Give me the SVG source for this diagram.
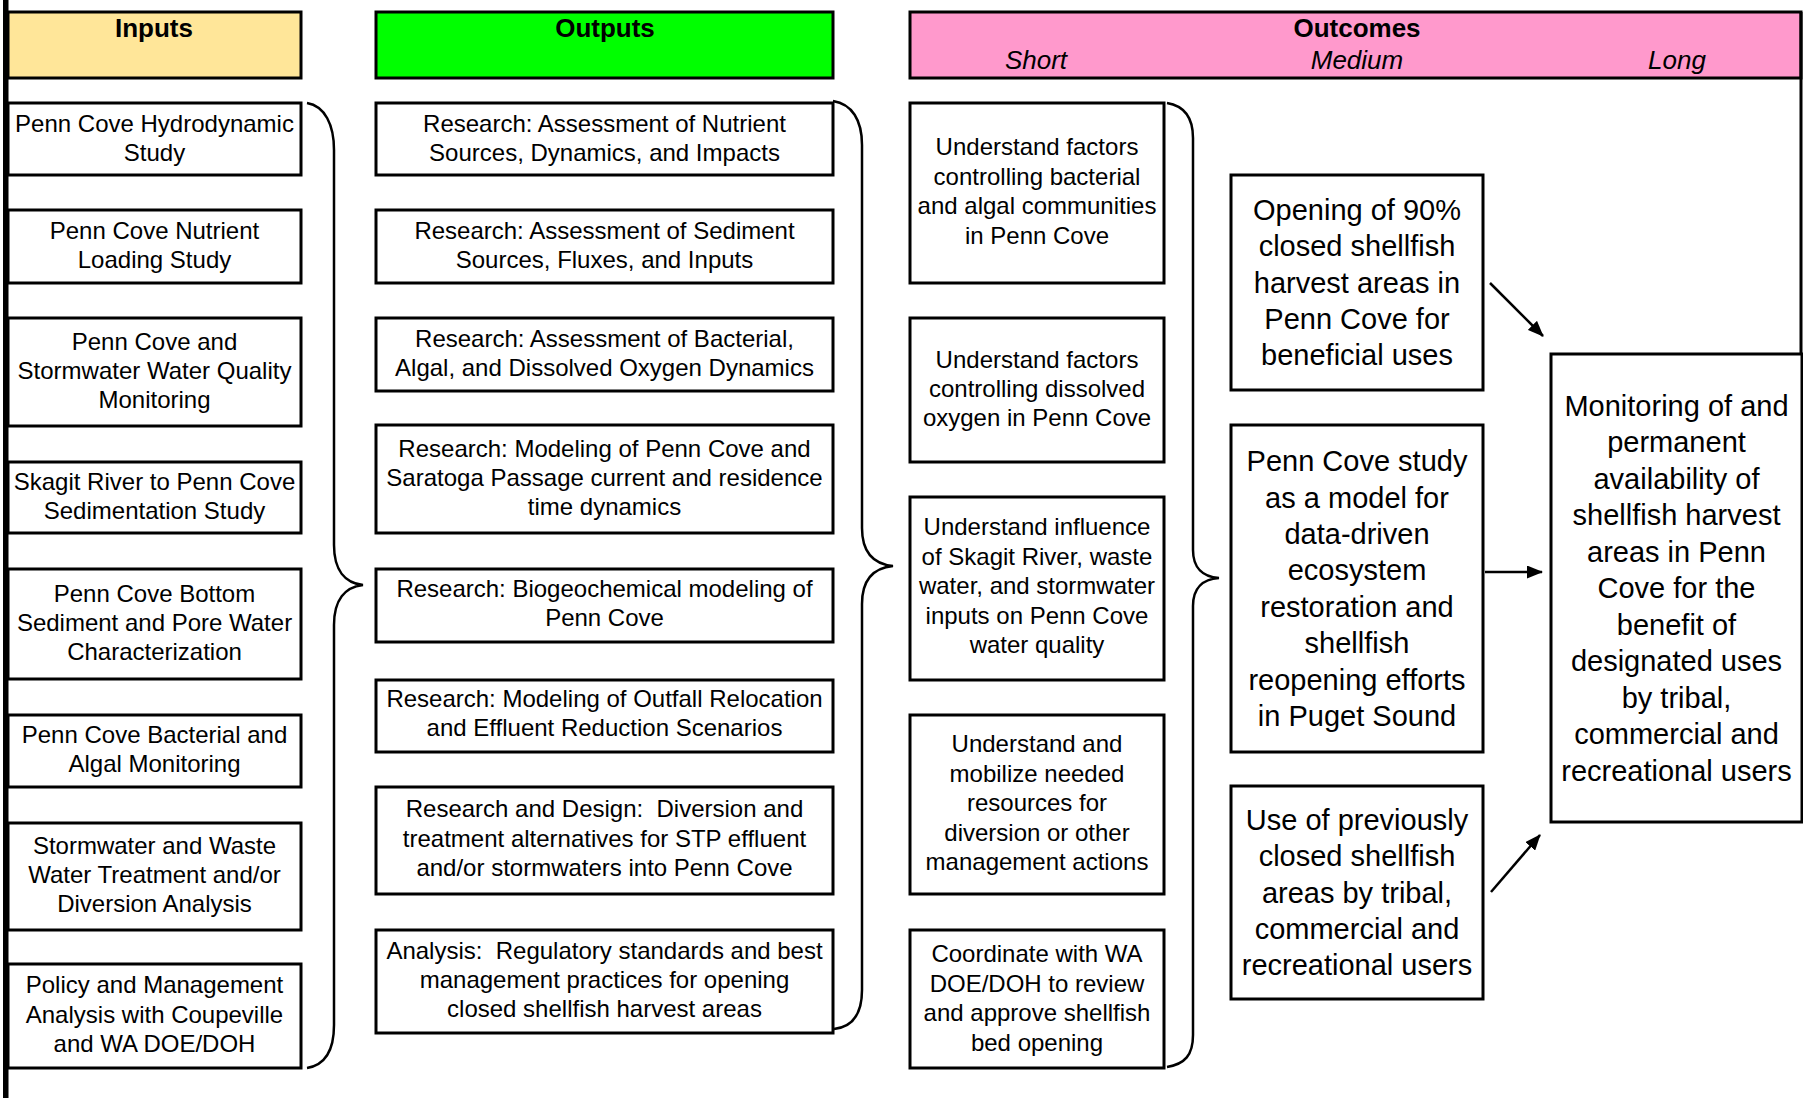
<svg xmlns="http://www.w3.org/2000/svg" width="1803" height="1098" viewBox="0 0 1803 1098">
<style>
.box{fill:#ffffff;stroke:#000;stroke-width:3}
.hdr{stroke:#000;stroke-width:3}
.t{font-family:"Liberation Sans",Arial,sans-serif;font-size:24px;fill:#000;text-anchor:middle}
.tm{font-family:"Liberation Sans",Arial,sans-serif;font-size:29px;fill:#000;text-anchor:middle}
.th{font-family:"Liberation Sans",Arial,sans-serif;font-size:26px;font-weight:bold;fill:#000;text-anchor:middle}
.ti{font-family:"Liberation Sans",Arial,sans-serif;font-size:26px;font-style:italic;fill:#000;text-anchor:middle}
.br{fill:none;stroke:#000;stroke-width:2.5}
.ar{fill:none;stroke:#000;stroke-width:2.5;marker-end:url(#ah)}
</style>
<defs>
<marker id="ah" markerUnits="userSpaceOnUse" viewBox="0 0 16 13" refX="15" refY="6.5" markerWidth="16" markerHeight="13" orient="auto">
<path d="M0,0 L16,6.5 L0,13 z" fill="#000"/>
</marker>
</defs>
<rect width="1803" height="1098" fill="#ffffff"/>

<g id="header-inputs">
<rect class="hdr" x="8" y="12" width="293" height="66" fill="#FFE699"/>
<text class="th" x="154" y="37">Inputs</text>
</g>
<g id="header-outputs">
<rect class="hdr" x="376" y="12" width="457" height="66" fill="#00FF00"/>
<text class="th" x="605" y="37">Outputs</text>
</g>
<g id="header-outcomes">
<rect class="hdr" x="910" y="12" width="891" height="66" fill="#FF99CC"/>
<text class="th" x="1357" y="37">Outcomes</text>
<text class="ti" x="1036" y="69">Short</text>
<text class="ti" x="1357" y="69">Medium</text>
<text class="ti" x="1677" y="69">Long</text>
</g>

<g id="in1"><rect class="box" x="8" y="103" width="293" height="72"/>
<text class="t"><tspan x="154.5" y="131.5">Penn Cove Hydrodynamic</tspan><tspan x="154.5" y="160.5">Study</tspan></text></g>
<g id="in2"><rect class="box" x="8" y="210" width="293" height="73"/>
<text class="t"><tspan x="154.5" y="239">Penn Cove Nutrient</tspan><tspan x="154.5" y="268">Loading Study</tspan></text></g>
<g id="in3"><rect class="box" x="8" y="318" width="293" height="108"/>
<text class="t"><tspan x="154.5" y="350">Penn Cove and</tspan><tspan x="154.5" y="379">Stormwater Water Quality</tspan><tspan x="154.5" y="408">Monitoring</tspan></text></g>
<g id="in4"><rect class="box" x="8" y="462" width="293" height="71"/>
<text class="t"><tspan x="154.5" y="490">Skagit River to Penn Cove</tspan><tspan x="154.5" y="519">Sedimentation Study</tspan></text></g>
<g id="in5"><rect class="box" x="8" y="569" width="293" height="110"/>
<text class="t"><tspan x="154.5" y="602">Penn Cove Bottom</tspan><tspan x="154.5" y="631">Sediment and Pore Water</tspan><tspan x="154.5" y="660">Characterization</tspan></text></g>
<g id="in6"><rect class="box" x="8" y="715" width="293" height="72"/>
<text class="t"><tspan x="154.5" y="742.5">Penn Cove Bacterial and</tspan><tspan x="154.5" y="771.5">Algal Monitoring</tspan></text></g>
<g id="in7"><rect class="box" x="8" y="823" width="293" height="107"/>
<text class="t"><tspan x="154.5" y="854">Stormwater and Waste</tspan><tspan x="154.5" y="883">Water Treatment and/or</tspan><tspan x="154.5" y="912">Diversion Analysis</tspan></text></g>
<g id="in8"><rect class="box" x="8" y="964" width="293" height="104"/>
<text class="t"><tspan x="154.5" y="993">Policy and Management</tspan><tspan x="154.5" y="1022.5">Analysis with Coupeville</tspan><tspan x="154.5" y="1052">and WA DOE/DOH</tspan></text></g>

<g id="out1"><rect class="box" x="376" y="103" width="457" height="72"/>
<text class="t"><tspan x="604.5" y="131.5">Research: Assessment of Nutrient</tspan><tspan x="604.5" y="160.5">Sources, Dynamics, and Impacts</tspan></text></g>
<g id="out2"><rect class="box" x="376" y="210" width="457" height="73"/>
<text class="t"><tspan x="604.5" y="239">Research: Assessment of Sediment</tspan><tspan x="604.5" y="268">Sources, Fluxes, and Inputs</tspan></text></g>
<g id="out3"><rect class="box" x="376" y="318" width="457" height="73"/>
<text class="t"><tspan x="604.5" y="347">Research: Assessment of Bacterial,</tspan><tspan x="604.5" y="376">Algal, and Dissolved Oxygen Dynamics</tspan></text></g>
<g id="out4"><rect class="box" x="376" y="425" width="457" height="108"/>
<text class="t"><tspan x="604.5" y="457">Research: Modeling of Penn Cove and</tspan><tspan x="604.5" y="486">Saratoga Passage current and residence</tspan><tspan x="604.5" y="515">time dynamics</tspan></text></g>
<g id="out5"><rect class="box" x="376" y="569" width="457" height="73"/>
<text class="t"><tspan x="604.5" y="597">Research: Biogeochemical modeling of</tspan><tspan x="604.5" y="626">Penn Cove</tspan></text></g>
<g id="out6"><rect class="box" x="376" y="680" width="457" height="72"/>
<text class="t"><tspan x="604.5" y="707">Research: Modeling of Outfall Relocation</tspan><tspan x="604.5" y="736">and Effluent Reduction Scenarios</tspan></text></g>
<g id="out7"><rect class="box" x="376" y="787" width="457" height="107"/>
<text class="t"><tspan x="604.5" y="817">Research and Design:&#160; Diversion and</tspan><tspan x="604.5" y="846.5">treatment alternatives for STP effluent</tspan><tspan x="604.5" y="876">and/or stormwaters into Penn Cove</tspan></text></g>
<g id="out8"><rect class="box" x="376" y="930" width="457" height="103"/>
<text class="t"><tspan x="604.5" y="958.5">Analysis:&#160; Regulatory standards and best</tspan><tspan x="604.5" y="988">management practices for opening</tspan><tspan x="604.5" y="1017">closed shellfish harvest areas</tspan></text></g>

<g id="short1"><rect class="box" x="910" y="103" width="254" height="180"/>
<text class="t"><tspan x="1037" y="155">Understand factors</tspan><tspan x="1037" y="184.5">controlling bacterial</tspan><tspan x="1037" y="214">and algal communities</tspan><tspan x="1037" y="243.5">in Penn Cove</tspan></text></g>
<g id="short2"><rect class="box" x="910" y="318" width="254" height="144"/>
<text class="t"><tspan x="1037" y="368">Understand factors</tspan><tspan x="1037" y="397">controlling dissolved</tspan><tspan x="1037" y="426">oxygen in Penn Cove</tspan></text></g>
<g id="short3"><rect class="box" x="910" y="497" width="254" height="183"/>
<text class="t"><tspan x="1037" y="535">Understand influence</tspan><tspan x="1037" y="564.6">of Skagit River, waste</tspan><tspan x="1037" y="594.2">water, and stormwater</tspan><tspan x="1037" y="623.8">inputs on Penn Cove</tspan><tspan x="1037" y="653.4">water quality</tspan></text></g>
<g id="short4"><rect class="box" x="910" y="715" width="254" height="179"/>
<text class="t"><tspan x="1037" y="752">Understand and</tspan><tspan x="1037" y="781.5">mobilize needed</tspan><tspan x="1037" y="811">resources for</tspan><tspan x="1037" y="840.5">diversion or other</tspan><tspan x="1037" y="870">management actions</tspan></text></g>
<g id="short5"><rect class="box" x="910" y="930" width="254" height="138"/>
<text class="t"><tspan x="1037" y="962">Coordinate with WA</tspan><tspan x="1037" y="991.5">DOE/DOH to review</tspan><tspan x="1037" y="1021">and approve shellfish</tspan><tspan x="1037" y="1050.5">bed opening</tspan></text></g>

<g id="med1"><rect class="box" x="1231" y="175" width="252" height="215"/>
<text class="tm"><tspan x="1357" y="219.7">Opening of 90%</tspan><tspan x="1357" y="256.1">closed shellfish</tspan><tspan x="1357" y="292.5">harvest areas in</tspan><tspan x="1357" y="328.9">Penn Cove for</tspan><tspan x="1357" y="365.3">beneficial uses</tspan></text></g>
<g id="med2"><rect class="box" x="1231" y="425" width="252" height="327"/>
<text class="tm"><tspan x="1357" y="471.1">Penn Cove study</tspan><tspan x="1357" y="507.5">as a model for</tspan><tspan x="1357" y="543.9">data-driven</tspan><tspan x="1357" y="580.3">ecosystem</tspan><tspan x="1357" y="616.7">restoration and</tspan><tspan x="1357" y="653.1">shellfish</tspan><tspan x="1357" y="689.5">reopening efforts</tspan><tspan x="1357" y="725.9">in Puget Sound</tspan></text></g>
<g id="med3"><rect class="box" x="1231" y="786" width="252" height="213"/>
<text class="tm"><tspan x="1357" y="829.7">Use of previously</tspan><tspan x="1357" y="866.1">closed shellfish</tspan><tspan x="1357" y="902.5">areas by tribal,</tspan><tspan x="1357" y="938.9">commercial and</tspan><tspan x="1357" y="975.3">recreational users</tspan></text></g>

<g id="long1"><rect class="box" x="1551" y="354" width="251" height="468"/>
<text class="tm"><tspan x="1676.5" y="415.5">Monitoring of and</tspan><tspan x="1676.5" y="452">permanent</tspan><tspan x="1676.5" y="488.5">availability of</tspan><tspan x="1676.5" y="525">shellfish harvest</tspan><tspan x="1676.5" y="561.5">areas in Penn</tspan><tspan x="1676.5" y="598">Cove for the</tspan><tspan x="1676.5" y="634.5">benefit of</tspan><tspan x="1676.5" y="671">designated uses</tspan><tspan x="1676.5" y="707.5">by tribal,</tspan><tspan x="1676.5" y="744">commercial and</tspan><tspan x="1676.5" y="780.5">recreational users</tspan></text></g>

<g id="frame">
<rect x="3" y="0" width="5.5" height="1098" fill="#000"/>
<line x1="1801" y1="12" x2="1801" y2="354" stroke="#000" stroke-width="3"/>
</g>

<g id="connectors">
<path class="br" d="M307,103 C325,106 334,125 334,150 L334,545 C334,570 345,583 363,585 C345,587 334,600 334,625 L334,1025 C334,1050 325,1065 307,1068"/>
<path class="br" d="M833,101 C852,104 862,120 862,145 L862,528 C862,552 873,564 893,566 C873,568 862,580 862,604 L862,990 C862,1015 852,1027 834,1029"/>
<path class="br" d="M1167,103 C1185,106 1193,118 1193,138 L1193,550 C1193,568 1203,577 1219,578 C1203,579 1193,588 1193,606 L1193,1035 C1193,1055 1185,1064 1167,1067"/>
<line class="ar" x1="1490" y1="283" x2="1543" y2="336"/>
<line class="ar" x1="1485" y1="572" x2="1542" y2="572"/>
<line class="ar" x1="1491" y1="892" x2="1540" y2="835"/>
</g>
</svg>
